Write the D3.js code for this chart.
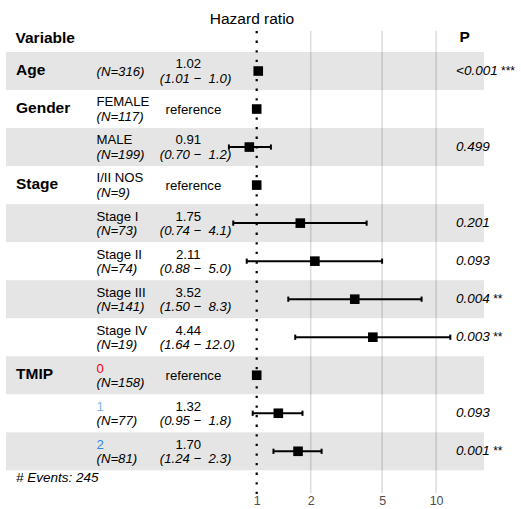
<!DOCTYPE html>
<html>
<head>
<meta charset="utf-8">
<script src="https://cdn.jsdelivr.net/npm/d3@7"></script>
<style>
  html, body { margin: 0; padding: 0; background: #fff; }
  svg { display: block; font-family: "Liberation Sans", Arial, Helvetica, sans-serif; }
</style>
</head>
<body>
<svg id="chart" width="521" height="509"></svg>
<script>
// ---- data ----
const variables = ["Age", "Gender", "", "Stage", "", "", "", "", "TMIP", "", ""];
const levels    = ["", "FEMALE", "MALE", "I/II NOS", "Stage I", "Stage II", "Stage III", "Stage IV", "0", "1", "2"];
const nObs      = [316, 117, 199, 9, 73, 74, 141, 19, 158, 77, 81];
const isRef     = [false, true, false, true, false, false, false, false, true, false, false];
const estimate  = [1.02, 1, 0.91, 1, 1.75, 2.11, 3.52, 4.44, 1, 1.32, 1.70];
const confLow   = [1.01, null, 0.70, null, 0.74, 0.88, 1.50, 1.64, null, 0.95, 1.24];
const confHigh  = [1.03, null, 1.2, null, 4.1, 5.0, 8.3, 12.0, null, 1.8, 2.3]; // Age upper shown as "1.0"
const pValues   = ["<0.001", "", "0.499", "", "0.201", "0.093", "0.004", "0.003", "", "0.093", "0.001"];
const pStars    = ["***", "", "", "", "", "", "**", "**", "", "", "**"];
const xTicks    = [1, 2, 5, 10];
const nEvents   = 245;
const levelColors = { "0": "#ff0000", "1": "#86b4e8", "2": "#2f86e6" };

// ---- layout ----
const svg = d3.select("#chart");
const rowsIdx = d3.range(levels.length);
const y = d3.scaleBand().domain(rowsIdx).range([52, 470.3]).padding(0);
const cy = i => y(i) + y.bandwidth() / 2;
const x = d3.scaleLog().domain([1, 10]).range([256.7, 436.1]);
const fs = 13.2;        // table text size
const top1 = -2.6;      // first-line baseline offset
const top2 = 12.0;      // second-line baseline offset

// gridlines
svg.append("g").selectAll("line")
  .data(xTicks.filter(t => t !== 1))
  .join("line")
  .attr("x1", d => x(d)).attr("x2", d => x(d))
  .attr("y1", 31).attr("y2", 493)
  .attr("stroke", "#dedede").attr("stroke-width", 1.6);

// zebra rows
svg.append("g").selectAll("rect")
  .data(rowsIdx.filter(i => i % 2 === 0))
  .join("rect")
  .attr("x", 6).attr("width", 484 - 6)
  .attr("y", d => y(d)).attr("height", y.bandwidth())
  .attr("fill", "#000").attr("fill-opacity", 0.1);

// dotted reference line at HR = 1
svg.append("line")
  .attr("x1", x(1)).attr("x2", x(1))
  .attr("y1", 31).attr("y2", 497)
  .attr("stroke", "#000").attr("stroke-width", 2.2)
  .attr("stroke-dasharray", "2.3,7.3");

// error bars
const eb = svg.append("g").selectAll("g")
  .data(rowsIdx.filter(i => confLow[i] != null))
  .join("g");
eb.append("line")
  .attr("x1", d => x(confLow[d])).attr("x2", d => x(confHigh[d]))
  .attr("y1", d => cy(d)).attr("y2", d => cy(d))
  .attr("stroke", "#000").attr("stroke-width", 2);
eb.selectAll("line.cap")
  .data(d => [[confLow[d], d], [confHigh[d], d]])
  .join("line").attr("class", "cap")
  .attr("x1", d => x(d[0])).attr("x2", d => x(d[0]))
  .attr("y1", d => cy(d[1]) - 2.6).attr("y2", d => cy(d[1]) + 2.6)
  .attr("stroke", "#000").attr("stroke-width", 2);

// point estimates
const sq = 9.6;
svg.append("g").selectAll("rect")
  .data(rowsIdx)
  .join("rect")
  .attr("x", d => x(estimate[d]) - sq / 2)
  .attr("y", d => cy(d) - sq / 2)
  .attr("width", sq).attr("height", sq)
  .attr("fill", "#000");

// header texts
svg.append("text").attr("x", 252).attr("y", 24)
  .attr("text-anchor", "middle").attr("font-size", 15.5).text("Hazard ratio");
svg.append("text").attr("x", 15.5).attr("y", 42.6)
  .attr("font-size", 15.5).attr("font-weight", "bold").text("Variable");
svg.append("text").attr("x", 459.5).attr("y", 42)
  .attr("font-size", 15.5).attr("font-weight", "bold").text("P");

// variable names
svg.append("g").selectAll("text")
  .data(rowsIdx.filter(i => variables[i] !== ""))
  .join("text")
  .attr("x", 16).attr("y", d => cy(d) + 3.8)
  .attr("font-size", 15.5).attr("font-weight", "bold")
  .text(d => variables[d]);

// level names
svg.append("g").selectAll("text")
  .data(rowsIdx.filter(i => levels[i] !== ""))
  .join("text")
  .attr("x", 96.5).attr("y", d => cy(d) + top1)
  .attr("font-size", fs)
  .attr("fill", d => levelColors[levels[d]] || "#000")
  .text(d => levels[d]);

// N
svg.append("g").selectAll("text")
  .data(rowsIdx)
  .join("text")
  .attr("x", 96.5).attr("y", d => levels[d] === "" ? cy(d) + 4.5 : cy(d) + top2)
  .attr("font-size", fs).attr("font-style", "italic")
  .text(d => `(N=${nObs[d]})`);

// estimates / reference
const padHigh = v => { const s = v.toFixed(1); return s.length < 4 ? " " + s : s; };
svg.append("g").selectAll("text")
  .data(rowsIdx.filter(i => isRef[i]))
  .join("text")
  .attr("x", 193.4).attr("y", d => cy(d) + 4.8)
  .attr("text-anchor", "middle").attr("font-size", fs)
  .text("reference");
svg.append("g").selectAll("text")
  .data(rowsIdx.filter(i => !isRef[i]))
  .join("text")
  .attr("x", 188.3).attr("y", d => cy(d) + top1)
  .attr("text-anchor", "middle").attr("font-size", fs)
  .text(d => estimate[d].toFixed(2));
svg.append("g").selectAll("text")
  .data(rowsIdx.filter(i => !isRef[i]))
  .join("text")
  .attr("x", 159.8).attr("y", d => cy(d) + top2)
  .attr("font-size", fs).attr("font-style", "italic")
  .attr("xml:space", "preserve").style("white-space", "pre")
  .text(d => `(${confLow[d].toFixed(2)} \u2212 ${padHigh(confHigh[d])})`);

// p values
const pt = svg.append("g").selectAll("text")
  .data(rowsIdx.filter(i => pValues[i] !== ""))
  .join("text")
  .attr("x", 456).attr("y", d => cy(d) + 4)
  .attr("font-size", 13.5).attr("font-style", "italic");
pt.append("tspan").text(d => pValues[d]);
pt.append("tspan").attr("font-style", "normal").attr("font-size", 12)
  .text(d => pStars[d] ? " " + pStars[d] : "");

// events
svg.append("text").attr("x", 16).attr("y", 482)
  .attr("font-size", 13.5).attr("font-style", "italic")
  .text(`# Events: ${nEvents}`);

// x axis
const axis = svg.append("g").attr("transform", "translate(0,493)")
  .call(d3.axisBottom(x).tickValues(xTicks).tickSize(0).tickPadding(3).tickFormat(d3.format("d")));
axis.select(".domain").remove();
axis.selectAll("text").attr("font-size", 12.5).attr("fill", "#4d4d4d")
  .attr("font-family", "Liberation Sans, Arial, sans-serif");
</script>
</body>
</html>
